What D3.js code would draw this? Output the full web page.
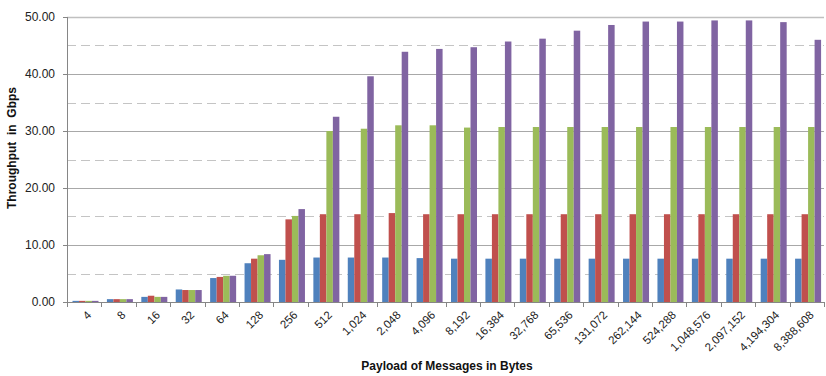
<!DOCTYPE html>
<html>
<head>
<meta charset="utf-8">
<script src="https://cdn.jsdelivr.net/npm/d3@7"></script>
<style>
  body { margin: 0; background: #fff; }
  svg { display: block; font-family: "Liberation Sans", Arial, sans-serif; }
</style>
</head>
<body>
<svg id="chart" width="826" height="376"></svg>
<script>
// payload sizes (x categories)
const payloads = ['4', '8', '16', '32', '64', '128', '256', '512', '1,024', '2,048', '4,096',
  '8,192', '16,384', '32,768', '65,536', '131,072', '262,144', '524,288', '1,048,576',
  '2,097,152', '4,194,304', '8,388,608'];

// throughput in Gbps, one array per series
const seriesBlue   = [0.2, 0.5, 0.9, 2.2, 4.2, 6.8, 7.4, 7.8, 7.8, 7.8, 7.7, 7.6, 7.6, 7.6, 7.6, 7.6, 7.6, 7.6, 7.6, 7.6, 7.6, 7.6];
const seriesRed    = [0.2, 0.5, 1.1, 2.1, 4.4, 7.6, 14.5, 15.4, 15.4, 15.6, 15.4, 15.4, 15.4, 15.4, 15.4, 15.4, 15.4, 15.4, 15.4, 15.4, 15.4, 15.4];
const seriesGreen  = [0.2, 0.5, 0.9, 2.1, 4.6, 8.2, 15.1, 30.0, 30.4, 31.0, 31.0, 30.6, 30.7, 30.7, 30.7, 30.7, 30.7, 30.7, 30.7, 30.7, 30.7, 30.7];
const seriesPurple = [0.2, 0.5, 0.9, 2.1, 4.6, 8.4, 16.3, 32.5, 39.6, 43.9, 44.4, 44.7, 45.7, 46.2, 47.6, 48.6, 49.2, 49.2, 49.4, 49.4, 49.1, 46.0];

const seriesNames = ['blue', 'red', 'green', 'purple'];
const colors = ['#4f81bd', '#c0504d', '#9bbb59', '#8064a2'];

const yTicks = [0, 10, 20, 30, 40, 50];
const yMinor = [5, 15, 25, 35, 45];

const allSeries = [seriesBlue, seriesRed, seriesGreen, seriesPurple];

const svg = d3.select('#chart');

const plotLeft = 67, plotRight = 824, plotTop = 17, plotBottom = 302;

const x = d3.scaleBand()
  .domain(payloads)
  .range([plotLeft, plotRight])
  .padding(0);

const xInner = d3.scaleBand()
  .domain(seriesNames)
  .range([5.5, 31.5])
  .padding(0);

const y = d3.scaleLinear()
  .domain([0, 50])
  .range([plotBottom, plotTop]);

// gridlines
svg.append('g')
  .selectAll('line')
  .data(yMinor)
  .enter()
  .append('line')
  .attr('x1', plotLeft).attr('x2', plotRight)
  .attr('y1', d => Math.round(y(d)) + 0.5)
  .attr('y2', d => Math.round(y(d)) + 0.5)
  .attr('stroke', '#c4c4c4')
  .attr('stroke-dasharray', '9,5');

svg.append('g')
  .selectAll('line')
  .data(yTicks.filter(d => d > 0))
  .enter()
  .append('line')
  .attr('x1', plotLeft).attr('x2', plotRight)
  .attr('y1', d => Math.round(y(d)) + 0.5)
  .attr('y2', d => Math.round(y(d)) + 0.5)
  .attr('stroke', d => d === 50 ? '#c0c0c0' : '#a8a8a8')
  .attr('stroke-width', d => d === 50 ? 1.6 : 1);

// bars
const rows = payloads.map((p, i) => ({ p: p, vals: allSeries.map((s, k) => ({ name: seriesNames[k], v: s[i] })) }));

const groups = svg.append('g')
  .selectAll('g')
  .data(rows)
  .enter()
  .append('g')
  .attr('transform', d => 'translate(' + x(d.p) + ',0)');

groups.selectAll('rect')
  .data(d => d.vals)
  .enter()
  .append('rect')
  .attr('x', d => xInner(d.name))
  .attr('width', xInner.bandwidth())
  .attr('y', d => y(d.v))
  .attr('height', d => y(0) - y(d.v))
  .attr('fill', (d, i) => colors[i]);

// y axis
const yAxis = svg.append('g');
yAxis.append('line')
  .attr('x1', plotLeft + 0.5).attr('x2', plotLeft + 0.5)
  .attr('y1', plotTop).attr('y2', plotBottom)
  .attr('stroke', '#868686');
yAxis.selectAll('line.tick')
  .data(yTicks)
  .enter()
  .append('line')
  .attr('class', 'tick')
  .attr('x1', plotLeft - 4).attr('x2', plotLeft)
  .attr('y1', d => Math.round(y(d)) + 0.5)
  .attr('y2', d => Math.round(y(d)) + 0.5)
  .attr('stroke', '#868686');
yAxis.selectAll('text')
  .data(yTicks)
  .enter()
  .append('text')
  .attr('x', 55)
  .attr('y', d => y(d))
  .attr('dy', '0.35em')
  .attr('text-anchor', 'end')
  .attr('font-size', 12)
  .attr('fill', '#222')
  .text(d => d3.format('.2f')(d));

// x axis
const xAxis = svg.append('g');
xAxis.append('line')
  .attr('x1', plotLeft).attr('x2', plotRight)
  .attr('y1', plotBottom + 0.5).attr('y2', plotBottom + 0.5)
  .attr('stroke', '#868686');
xAxis.selectAll('line.tick')
  .data(payloads.map(p => x(p)).concat([plotRight]))
  .enter()
  .append('line')
  .attr('class', 'tick')
  .attr('x1', d => Math.round(d) + 0.5).attr('x2', d => Math.round(d) + 0.5)
  .attr('y1', plotBottom).attr('y2', plotBottom + 5)
  .attr('stroke', '#868686');
xAxis.selectAll('text')
  .data(payloads)
  .enter()
  .append('text')
  .attr('transform', d => 'translate(' + (x(d) + x.bandwidth() / 2 + 2) + ',' + 310 + ') rotate(-45)')
  .attr('text-anchor', 'end')
  .attr('dy', '0.7em')
  .attr('font-size', 11.5)
  .attr('fill', '#222')
  .text(d => d);

// titles
svg.append('text')
  .attr('transform', 'translate(16,148) rotate(-90)')
  .attr('text-anchor', 'middle')
  .attr('font-size', 12)
  .attr('font-weight', 'bold')
  .attr('fill', '#111')
  .style('white-space', 'pre')
  .text('Throughput  in  Gbps');

svg.append('text')
  .attr('x', 447)
  .attr('y', 370)
  .attr('text-anchor', 'middle')
  .attr('font-size', 12)
  .attr('font-weight', 'bold')
  .attr('fill', '#111')
  .text('Payload of Messages in Bytes');
</script>
</body>
</html>
